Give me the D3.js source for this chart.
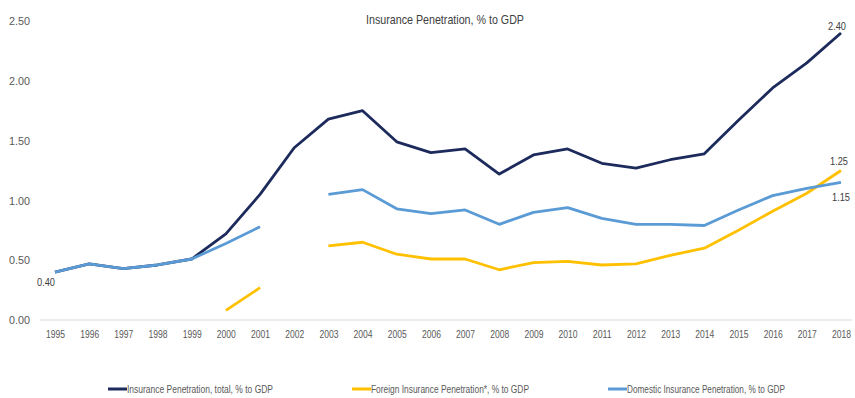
<!DOCTYPE html>
<html>
<head>
<meta charset="utf-8">
<script src="https://cdn.jsdelivr.net/npm/d3@7"></script>
<style>
  html, body { margin: 0; padding: 0; background: #fff; }
  svg { display: block; font-family: "Liberation Sans Narrow", "Liberation Sans", "DejaVu Sans", sans-serif; }
</style>
</head>
<body>
<svg id="chart" width="855" height="398"></svg>
<script>
// Insurance penetration series, % to GDP
const years = d3.range(1995, 2019);
const totalPenetration = [0.40, 0.47, 0.43, 0.46, 0.51, 0.72, 1.05, 1.44, 1.68, 1.75, 1.49, 1.40, 1.43, 1.22, 1.38, 1.43, 1.31, 1.27, 1.34, 1.39, 1.67, 1.94, 2.15, 2.40];
const foreignPenetration = [null, null, null, null, null, 0.08, 0.27, null, 0.62, 0.65, 0.55, 0.51, 0.51, 0.42, 0.48, 0.49, 0.46, 0.47, 0.54, 0.60, 0.75, 0.91, 1.06, 1.25];
const domesticPenetration = [0.40, 0.47, 0.43, 0.46, 0.51, 0.64, 0.78, null, 1.05, 1.09, 0.93, 0.89, 0.92, 0.80, 0.90, 0.94, 0.85, 0.80, 0.80, 0.79, 0.92, 1.04, 1.10, 1.15];
const yTicks = [0, 0.5, 1.0, 1.5, 2.0, 2.5];
const seriesNames = ["Insurance Penetration, total, % to GDP", "Foreign Insurance Penetration*, % to GDP", "Domestic Insurance Penetration, % to GDP"];
const seriesColors = ["#1c2a5c", "#ffc000", "#5b9bd5"];

const svg = d3.select("#chart");

const x = d3.scalePoint().domain(years).range([55, 841]);
const y = d3.scaleLinear().domain([0, 2.5]).range([320, 21]);

// Squeeze a text element horizontally to a given width (condensed look)
function fitWidth(sel, w) {
  sel.attr("textLength", w).attr("lengthAdjust", "spacingAndGlyphs");
}

// Title
svg.append("text")
  .attr("x", 445).attr("y", 24)
  .attr("text-anchor", "middle")
  .attr("font-size", 13)
  .attr("fill", "#404040")
  .text("Insurance Penetration, % to GDP")
  .call(fitWidth, 158);

// Baseline
svg.append("line")
  .attr("x1", 40).attr("x2", 852)
  .attr("y1", y(0)).attr("y2", y(0))
  .attr("stroke", "#d9d9d9").attr("stroke-width", 1);

// Y axis labels
const yAxis = d3.axisLeft(y).tickValues(yTicks).tickFormat(d3.format(".2f")).tickSize(0).tickPadding(0);
svg.append("g")
  .attr("transform", "translate(30,0)")
  .call(yAxis)
  .call(g => g.select(".domain").remove())
  .call(g => g.selectAll("text").attr("font-size", 11.5).attr("fill", "#595959").attr("font-family", null).call(fitWidth, 21));

// X axis labels
const xAxis = d3.axisBottom(x).tickSize(0).tickPadding(0);
svg.append("g")
  .attr("transform", "translate(0,331)")
  .call(xAxis)
  .call(g => g.select(".domain").remove())
  .call(g => g.selectAll("text").attr("font-size", 10.5).attr("fill", "#595959").attr("font-family", null).call(fitWidth, 19));

// Lines
const line = d3.line()
  .defined(d => d.v !== null)
  .x(d => x(d.year))
  .y(d => y(d.v));

const series = [totalPenetration, foreignPenetration, domesticPenetration];
series.forEach((vals, i) => {
  svg.append("path")
    .datum(years.map((yr, j) => ({ year: yr, v: vals[j] })))
    .attr("fill", "none")
    .attr("stroke", seriesColors[i])
    .attr("stroke-width", 2.8)
    .attr("stroke-linejoin", "round")
    .attr("d", line);
});

// Value labels
const last = years.length - 1;
const labels = [
  { year: years[last], v: totalPenetration[last], dx: -4, dy: -3 },
  { year: years[last], v: foreignPenetration[last], dx: -2, dy: -6 },
  { year: years[last], v: domesticPenetration[last], dx: 0, dy: 19 },
  { year: years[0], v: domesticPenetration[0], dx: -9, dy: 14 }
];
svg.append("g").selectAll("text")
  .data(labels)
  .join("text")
  .attr("x", d => x(d.year) + d.dx)
  .attr("y", d => y(d.v) + d.dy)
  .attr("text-anchor", "middle")
  .attr("font-size", 11)
  .attr("fill", "#404040")
  .text(d => d.v.toFixed(2))
  .call(fitWidth, 18);

// Legend
const legendX = [108, 352, 608];
const legendW = [146, 158, 158];
const legend = svg.append("g");
seriesNames.forEach((name, i) => {
  legend.append("line")
    .attr("x1", legendX[i]).attr("x2", legendX[i] + 19)
    .attr("y1", 389).attr("y2", 389)
    .attr("stroke", seriesColors[i]).attr("stroke-width", 3);
  legend.append("text")
    .attr("x", legendX[i] + 19).attr("y", 392.5)
    .attr("font-size", 10)
    .attr("fill", "#595959")
    .text(name)
    .call(fitWidth, legendW[i]);
});
</script>
</body>
</html>
